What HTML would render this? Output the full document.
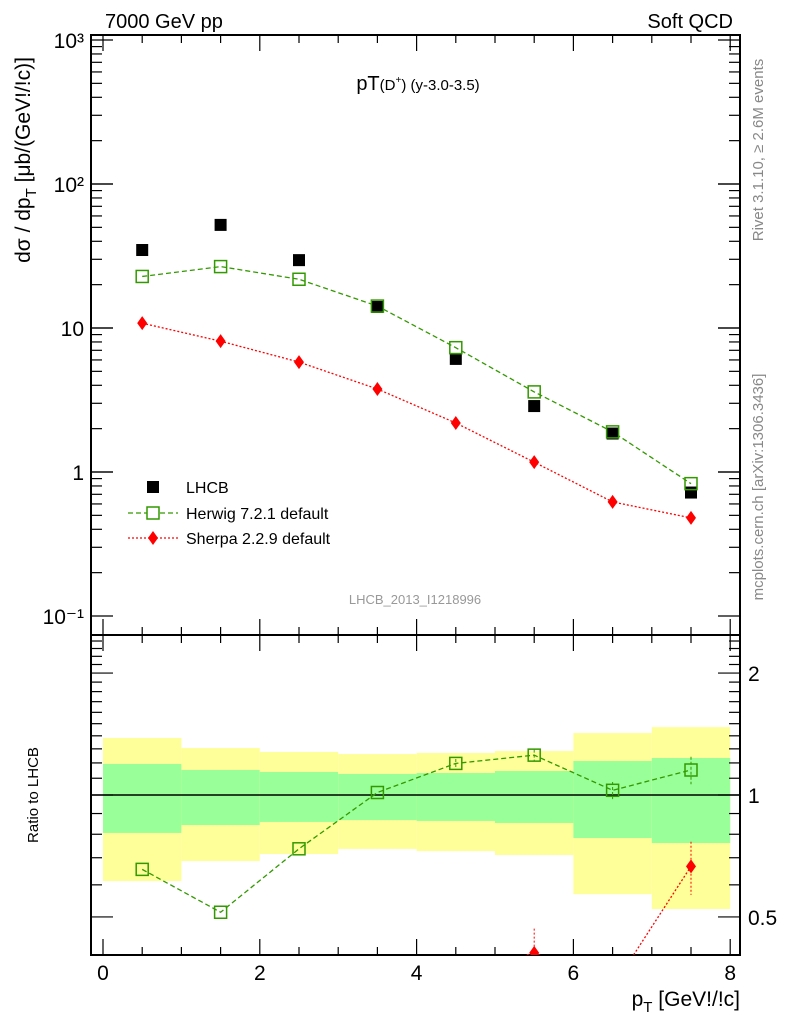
<!DOCTYPE html>
<html><head><meta charset="utf-8"><style>
html,body{margin:0;padding:0;background:#fff;overflow:hidden;width:786px;height:1024px}
svg{display:block;font-family:"Liberation Sans",sans-serif}
</style></head><body>
<svg id="c" width="786" height="1024" xmlns="http://www.w3.org/2000/svg">
<text x="105" y="28" font-size="20">7000 GeV pp</text>
<text x="733" y="28" font-size="20" text-anchor="end">Soft QCD</text>
<text x="418" y="90" font-size="20" text-anchor="middle">pT<tspan font-size="15">(D<tspan dy="-7" font-size="10">+</tspan><tspan dy="7">)</tspan> (y-3.0-3.5)</tspan></text>
<text x="415" y="604" font-size="13" fill="#999" text-anchor="middle">LHCB_2013_I1218996</text>
<text transform="translate(763,150) rotate(-90)" font-size="15" fill="#888" text-anchor="middle">Rivet 3.1.10, ≥ 2.6M events</text>
<text transform="translate(763,487) rotate(-90)" font-size="15" fill="#888" text-anchor="middle">mcplots.cern.ch [arXiv:1306.3436]</text>
<text transform="translate(30,160) rotate(-90)" font-size="21" text-anchor="middle">dσ / dp<tspan dy="6" font-size="15">T</tspan><tspan dy="-6"> [μb/(GeV!/!c)]</tspan></text>
<text transform="translate(38,795) rotate(-90)" font-size="15" text-anchor="middle">Ratio to LHCB</text>
<text x="740" y="1006" font-size="21" text-anchor="end">p<tspan dy="6" font-size="15">T</tspan><tspan dy="-6"> [GeV!/!c]</tspan></text>
<g id="g"></g>
</svg>
<script>
const centers=[0.5,1.5,2.5,3.5,4.5,5.5,6.5,7.5];
const lhcb=[34.8,52,29.6,14.0,6.1,2.87,1.85,0.72];
const herwig=[22.8,26.7,21.8,14.2,7.3,3.6,1.9,0.83];
const herwigErr=[0.01,0.01,0.01,0.01,0.03,0.04,0.05,0.09];
const sherpa=[10.8,8.1,5.8,3.77,2.19,1.17,0.62,0.48];
const sherpaErr=[0,0,0,0,0,0.06,0,0.1];
const greenHi=[1.193,1.153,1.140,1.127,1.133,1.146,1.213,1.234];
const greenLo=[0.806,0.843,0.858,0.867,0.863,0.853,0.783,0.761];
const yelHi=[1.383,1.306,1.277,1.262,1.270,1.284,1.422,1.471];
const yelLo=[0.613,0.687,0.715,0.736,0.727,0.711,0.569,0.523];
const yTickLabels=["10⁻¹","1","10","10²","10³"];
const ratioTicks=[0.5,1,2];

const L=91,R=740,T=35,M=635,B=955;
const X=v=>103+v*78.4;
const Y=v=>472-144*Math.log10(v);
const RY=v=>795-405*Math.log10(v);
const g=document.getElementById('g');
const NS='http://www.w3.org/2000/svg';
function el(t,a,p){const e=document.createElementNS(NS,t);for(const k in a)e.setAttribute(k,a[k]);(p||g).appendChild(e);return e;}

for(let i=0;i<8;i++){
 const r=el('rect',{x:X(i),y:RY(yelHi[i]),width:78.4,height:RY(yelLo[i])-RY(yelHi[i]),fill:'#ffff99'});
 
 
 const q=el('rect',{x:X(i),y:RY(greenHi[i]),width:78.4,height:RY(greenLo[i])-RY(greenHi[i]),fill:'#99ff99'});
 
 
}
el('line',{x1:L,x2:R,y1:RY(1),y2:RY(1),stroke:'#000','stroke-width':1.5});

el('rect',{x:L,y:T,width:R-L,height:M-T,fill:'none',stroke:'#000','stroke-width':2});
el('rect',{x:L,y:M,width:R-L,height:B-M,fill:'none',stroke:'#000','stroke-width':2});

for(let k=0;k<=16;k++){const v=k/2,x=X(v),len=(k%4==0)?16:8;
 for(const [y0,d] of [[T,1],[M,-1],[M,1],[B,-1]])el('line',{x1:x,x2:x,y1:y0,y2:y0+d*len,stroke:'#000','stroke-width':1.2});
 if(k%4==0){const t=el('text',{x:x,y:980,'font-size':21,'text-anchor':'middle'});t.textContent=v;
  
  }
}
for(let d=-1;d<=2;d++)for(let m=1;m<=10;m++){const v=m*Math.pow(10,d),y=Y(v);if(y<T-1||y>M+1)continue;const len=(m==1||m==10)?22:11;
 el('line',{x1:L,x2:L+len,y1:y,y2:y,stroke:'#000','stroke-width':1.2});el('line',{x1:R,x2:R-len,y1:y,y2:y,stroke:'#000','stroke-width':1.2});}
yTickLabels.forEach((s,i)=>{const t=el('text',{x:84,y:Y(Math.pow(10,i-1))+8,'font-size':21,'text-anchor':'end'});t.textContent=s;
 
 });
const rmin=[0.5,0.6,0.7,0.8,0.9,1,1.1,1.2,1.3,1.4,1.5,1.6,1.7,1.8,1.9,2,2.1,2.2,2.3,2.4];
rmin.forEach(v=>{const y=RY(v),len=(v==1||v==2||v==0.5)?22:11;
 el('line',{x1:L,x2:L+len,y1:y,y2:y,stroke:'#000','stroke-width':1.2});el('line',{x1:R,x2:R-len,y1:y,y2:y,stroke:'#000','stroke-width':1.2});});
ratioTicks.forEach(v=>{const t=el('text',{x:748,y:RY(v)+8,'font-size':21});t.textContent=v;
 
 });

const clip=el('clipPath',{id:'cr'});el('rect',{x:L,y:M,width:R-L,height:B-M},clip);
const rg=el('g',{'clip-path':'url(#cr)'});

el('polyline',{points:centers.map((c,i)=>X(c)+','+Y(herwig[i])).join(' '),fill:'none',stroke:'#339900','stroke-width':1.3,'stroke-dasharray':'5,3'});
el('polyline',{points:centers.map((c,i)=>X(c)+','+Y(sherpa[i])).join(' '),fill:'none',stroke:'#f00','stroke-width':1.3,'stroke-dasharray':'2,2'});
el('polyline',{points:centers.map((c,i)=>X(c)+','+RY(herwig[i]/lhcb[i])).join(' '),fill:'none',stroke:'#339900','stroke-width':1.3,'stroke-dasharray':'5,3'},rg);
el('polyline',{points:centers.map((c,i)=>X(c)+','+RY(sherpa[i]/lhcb[i])).join(' '),fill:'none',stroke:'#f00','stroke-width':1.3,'stroke-dasharray':'2,2'},rg);

function diamond(x,y,p){return el('path',{d:`M${x},${y-7}L${x+5},${y}L${x},${y+7}L${x-5},${y}Z`,fill:'#f00'},p);}
centers.forEach((c,i)=>{
 const s=el('rect',{x:X(c)-6,y:Y(lhcb[i])-6,width:12,height:12,fill:'#000'});
 
 
 const h=el('rect',{x:X(c)-6,y:Y(herwig[i])-6,width:12,height:12,fill:'none',stroke:'#339900','stroke-width':1.5});
 
 
 const d=diamond(X(c),Y(sherpa[i]));
 
 
 const hr=herwig[i]/lhcb[i];
 if(herwigErr[i]>0.02)el('line',{x1:X(c),x2:X(c),y1:RY(hr+herwigErr[i]),y2:RY(hr-herwigErr[i]),stroke:'#339900','stroke-dasharray':'3,2'},rg);
 const rh=el('rect',{x:X(c)-6,y:RY(hr)-6,width:12,height:12,fill:'none',stroke:'#339900','stroke-width':1.5},rg);
 
 
 const sr=sherpa[i]/lhcb[i];
 if(sherpaErr[i]>0)el('line',{x1:X(c),x2:X(c),y1:RY(sr+sherpaErr[i]),y2:RY(sr-sherpaErr[i]),stroke:'#f00','stroke-dasharray':'2,2'},rg);
 const rs=diamond(X(c),RY(sr),rg);
 
 
});

const lg=el('g',{});


el('rect',{x:147,y:481,width:12,height:12,fill:'#000'},lg);
el('line',{x1:128,x2:178,y1:513,y2:513,stroke:'#339900','stroke-width':1.3,'stroke-dasharray':'5,3'},lg);
el('rect',{x:147,y:507,width:12,height:12,fill:'#fff',stroke:'#339900','stroke-width':1.5},lg);
el('line',{x1:128,x2:178,y1:538,y2:538,stroke:'#f00','stroke-width':1.3,'stroke-dasharray':'2,2'},lg);
diamond(153,538,lg);
[['LHCB',493],['Herwig 7.2.1 default',519],['Sherpa 2.2.9 default',544]].forEach(([s,y])=>{const t=el('text',{x:186,y:y,'font-size':16},lg);t.textContent=s;
 
 });
</script>
</body></html>
